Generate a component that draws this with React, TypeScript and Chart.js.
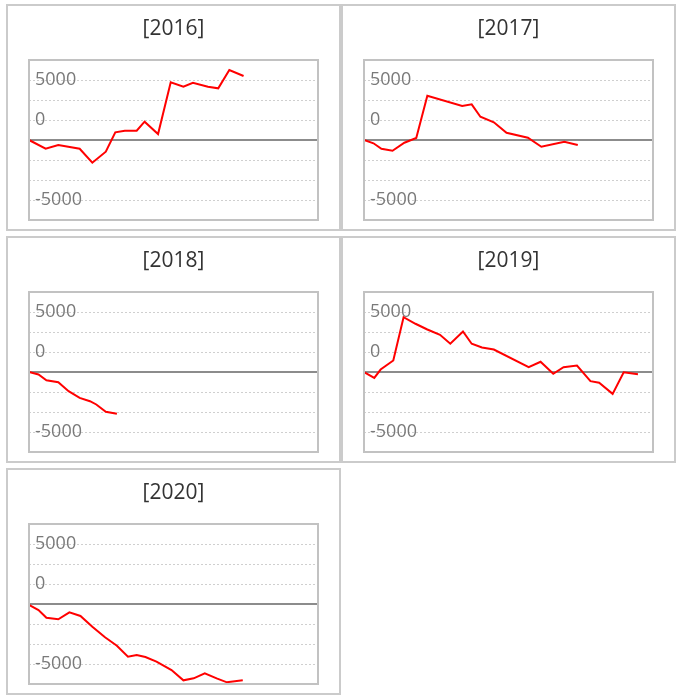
import React, { useEffect, useRef } from 'react';
import { Chart, registerables } from 'chart.js';

Chart.register(...registerables);

const YEARS = ['2016', '2017', '2018', '2019', '2020'];

// x = day of the year, y = cumulative value
const DAYS_2016 = [0, 21, 37, 64, 80, 97, 109, 121, 136, 146, 163, 179, 195, 207, 226, 239, 253, 271];
const PROFIT_2016 = [0, -1090, -620, -1090, -2840, -1460, 960, 1160, 1160, 2290, 750, 7210, 6660, 7160, 6660, 6460, 8750, 8000];

const DAYS_2017 = [0, 12, 22, 36, 51, 66, 80, 124, 136, 147, 164, 180, 207, 224, 253, 270];
const PROFIT_2017 = [0, -410, -1090, -1340, -340, 250, 5540, 4250, 4460, 2910, 2210, 910, 290, -840, -210, -620];

const DAYS_2018 = [0, 12, 22, 37, 50, 64, 77, 85, 97, 111];
const PROFIT_2018 = [0, -310, -1030, -1280, -2400, -3230, -3650, -4060, -4980, -5230];

const DAYS_2019 = [0, 13, 21, 37, 50, 65, 80, 96, 109, 125, 136, 149, 164, 208, 223, 239, 252, 269, 286, 297, 314, 328, 346];
const PROFIT_2019 = [0, -730, 310, 1440, 6850, 6030, 5310, 4650, 3530, 5060, 3530, 3060, 2810, 600, 1280, -230, 600, 810, -1150, -1350, -2730, -30, -280];

const DAYS_2020 = [0, 12, 22, 37, 51, 65, 80, 96, 111, 125, 136, 147, 161, 180, 195, 208, 222, 237, 250, 270];
const PROFIT_2020 = [-100, -750, -1710, -1910, -1040, -1500, -2840, -4160, -5210, -6590, -6380, -6630, -7210, -8250, -9540, -9290, -8660, -9290, -9790, -9540];

const X_MIN = 0;
const X_MAX = 365;
const Y_MIN = -10000;
const Y_MAX = 10000;
const Y_STEP = 2500;
const TICK_VALUES = [7500, 2500, -7500];
const TICK_LABELS = ['5000', '0', '-5000'];

const SERIES = [
  { year: YEARS[0], days: DAYS_2016, profit: PROFIT_2016 },
  { year: YEARS[1], days: DAYS_2017, profit: PROFIT_2017 },
  { year: YEARS[2], days: DAYS_2018, profit: PROFIT_2018 },
  { year: YEARS[3], days: DAYS_2019, profit: PROFIT_2019 },
  { year: YEARS[4], days: DAYS_2020, profit: PROFIT_2020 },
];

const plotFrame = {
  id: 'plotFrame',
  afterDatasetsDraw(chart: any) {
    const { ctx, chartArea: a } = chart;
    ctx.save();
    ctx.strokeStyle = '#c2c2c2';
    ctx.lineWidth = 2;
    ctx.strokeRect(a.left, a.top, a.right - a.left, a.bottom - a.top);
    ctx.restore();
  },
};

function Panel({ year, days, profit }: { year: string; days: number[]; profit: number[] }) {
  const ref = useRef<HTMLCanvasElement>(null);

  useEffect(() => {
    if (!ref.current) return;
    const chart = new Chart(ref.current, {
      type: 'line',
      data: {
        datasets: [
          {
            data: days.map((d, i) => ({ x: d, y: profit[i] })),
            borderColor: '#ff0000',
            borderWidth: 2,
            pointRadius: 0,
            pointHoverRadius: 0,
            tension: 0,
            fill: false,
          },
        ],
      },
      options: {
        animation: false,
        responsive: false,
        events: [],
        layout: { padding: { top: 54, left: 9, right: 21, bottom: 9 } },
        plugins: {
          legend: { display: false },
          tooltip: { enabled: false },
          title: { display: false },
        },
        scales: {
          x: { type: 'linear', min: X_MIN, max: X_MAX, display: false },
          y: {
            type: 'linear',
            min: Y_MIN,
            max: Y_MAX,
            afterFit: (scale: any) => {
              scale.paddingTop = 0;
              scale.paddingBottom = 0;
            },
            border: {
              display: false,
              dash: (ctx: any) => (ctx.tick && ctx.tick.value === 0 ? [] : [2, 2]),
            },
            grid: {
              drawTicks: false,
              color: (ctx: any) => (ctx.tick && ctx.tick.value === 0 ? '#8c8c8c' : '#cfcfcf'),
              lineWidth: (ctx: any) => (ctx.tick && ctx.tick.value === 0 ? 2 : 1),
            },
            ticks: {
              stepSize: Y_STEP,
              autoSkip: false,
              mirror: true,
              padding: 6,
              color: '#7a7a7a',
              font: { family: 'Open Sans', size: 18 },
              callback: (value: any) => {
                const v = Number(value);
                const i = TICK_VALUES.indexOf(v);
                if (i >= 0) return TICK_LABELS[i];
                if (v === Y_MIN || v === Y_MAX) return null;
                return '';
              },
            },
          },
        },
      },
      plugins: [plotFrame],
    } as any);
    return () => chart.destroy();
  }, [year, days, profit]);

  return (
    <div
      style={{
        position: 'relative',
        width: 335,
        height: 227,
        boxSizing: 'border-box',
        border: '2px solid #cbcbcb',
        background: '#ffffff',
      }}
    >
      <canvas ref={ref} width={331} height={223} style={{ display: 'block', width: 331, height: 223 }} />
      <div
        style={{
          position: 'absolute',
          left: 0,
          top: 0,
          width: 331,
          paddingTop: 8,
          textAlign: 'center',
          fontFamily: '"Open Sans", sans-serif',
          fontSize: 21,
          lineHeight: '26px',
          color: '#333333',
        }}
      >
        [{year}]
      </div>
    </div>
  );
}

export default function App() {
  return (
    <div
      style={{
        position: 'absolute',
        left: 6,
        top: 4,
        display: 'grid',
        gridTemplateColumns: '335px 335px',
        columnGap: 0,
        rowGap: 5,
      }}
    >
      {SERIES.map((s) => (
        <Panel key={s.year} year={s.year} days={s.days} profit={s.profit} />
      ))}
    </div>
  );
}
